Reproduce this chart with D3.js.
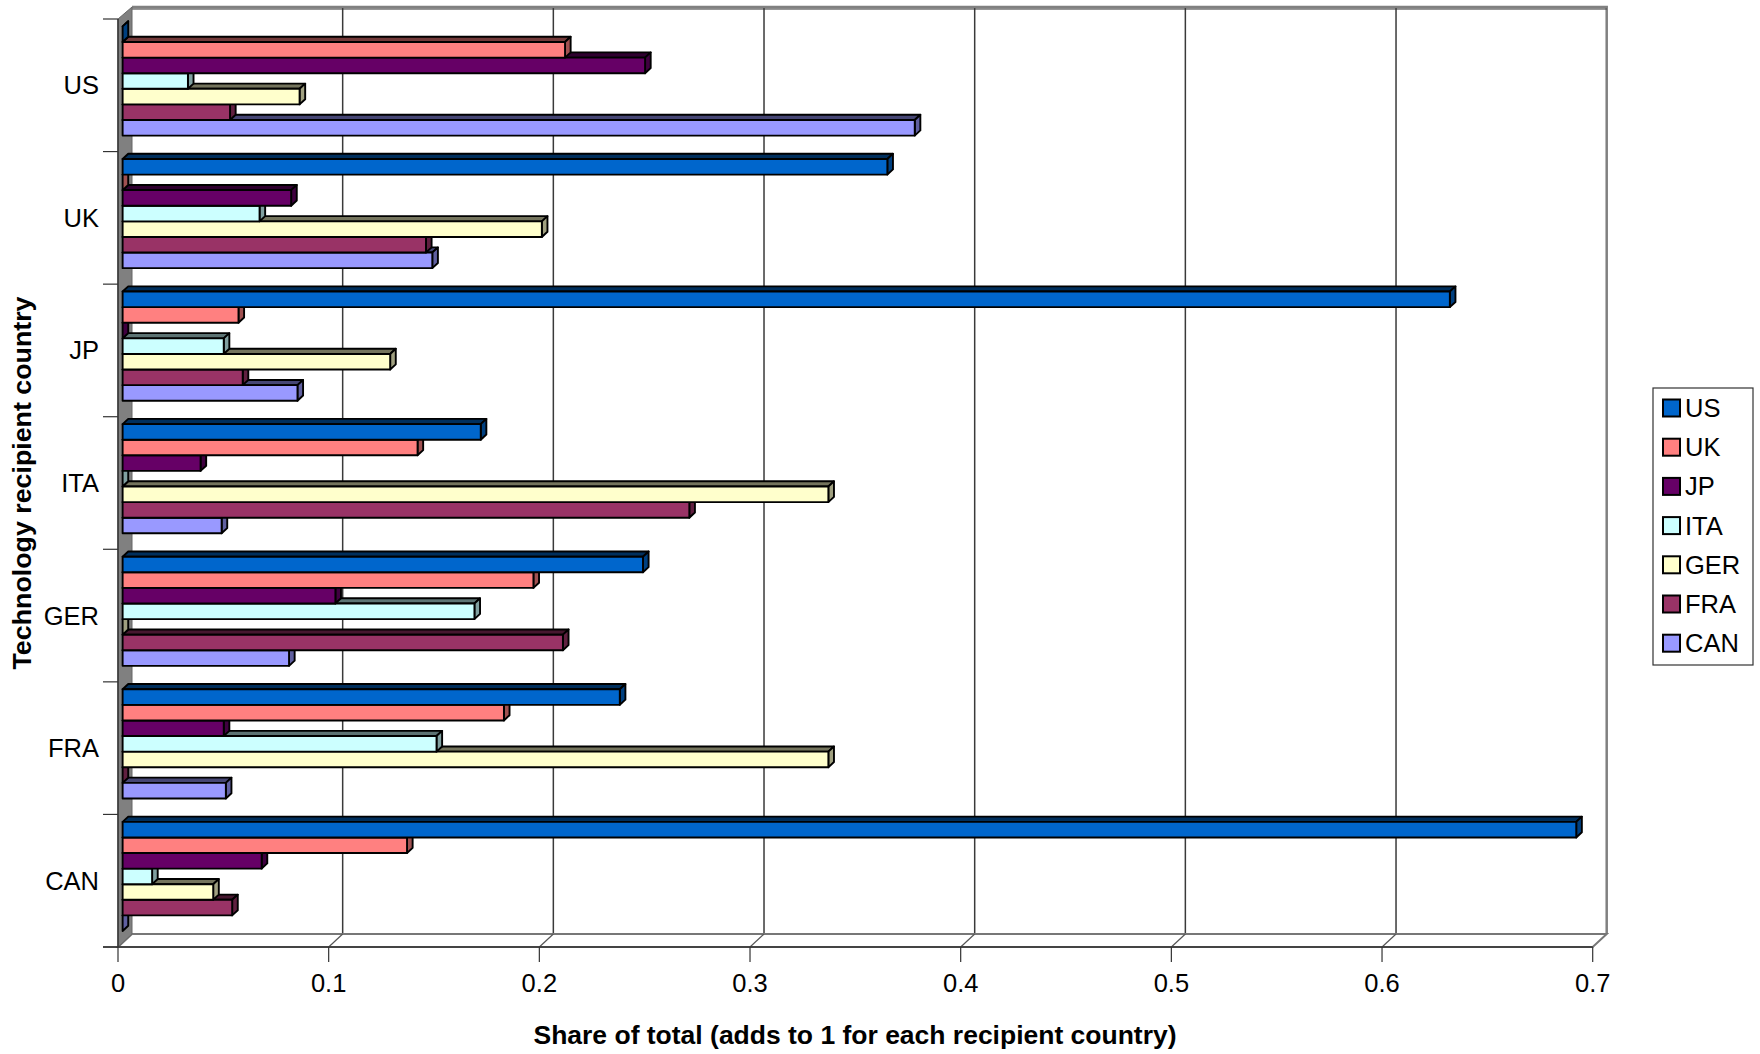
<!DOCTYPE html>
<html>
<head>
<meta charset="utf-8">
<script src="https://cdn.jsdelivr.net/npm/d3@7"></script>
<style>
  html, body { margin: 0; padding: 0; background: #fff; }
  svg { display: block; font-family: "Liberation Sans", Arial, sans-serif; }
</style>
</head>
<body>
<svg id="chart" width="1760" height="1054"></svg>
<script>
// Recipient countries (one cluster each) and technology source countries (one bar each)
const recipients = ["US", "UK", "JP", "ITA", "GER", "FRA", "CAN"];
const sources = ["US", "UK", "JP", "ITA", "GER", "FRA", "CAN"];

// Share of each recipient's total coming from each source, listed in recipient order
const usShare  = [0.000, 0.363, 0.630, 0.170, 0.247, 0.236, 0.690];
const ukShare  = [0.210, 0.000, 0.055, 0.140, 0.195, 0.181, 0.135];
const jpShare  = [0.248, 0.080, 0.000, 0.037, 0.101, 0.048, 0.066];
const itaShare = [0.031, 0.065, 0.048, 0.000, 0.167, 0.149, 0.014];
const gerShare = [0.084, 0.199, 0.127, 0.335, 0.000, 0.335, 0.043];
const fraShare = [0.051, 0.144, 0.057, 0.269, 0.209, 0.000, 0.052];
const canShare = [0.376, 0.147, 0.083, 0.047, 0.079, 0.049, 0.000];

const shareBySource = [usShare, ukShare, jpShare, itaShare, gerShare, fraShare, canShare];
const sourceColors = ["#0066CC", "#FF8080", "#660066", "#CCFFFF", "#FFFFCC", "#993366", "#9999FF"];
const xTickValues = [0, 0.1, 0.2, 0.3, 0.4, 0.5, 0.6, 0.7];
const xTickLabels = ["0", "0.1", "0.2", "0.3", "0.4", "0.5", "0.6", "0.7"];

const svg = d3.select("#chart");

// Front plane of the plot box; the back wall is shifted up-right by the depth
const depthX = 14, depthY = 13;
const x = d3.scaleLinear().domain([0, 0.7]).range([118, 1592.7]);
const yCat = d3.scaleBand().domain(recipients).range([19, 947]).paddingInner(0).paddingOuter(0);
const ySrc = d3.scaleBand().domain(sources).range([0, yCat.bandwidth()]).paddingInner(0).paddingOuter(0.75);

const plotL = x(0), plotR = x(0.7), plotT = yCat.range()[0], plotB = yCat.range()[1];

// Back wall
svg.append("rect")
  .attr("x", plotL + depthX).attr("y", plotT - depthY + 1)
  .attr("width", plotR - plotL).attr("height", plotB - plotT - 1)
  .attr("fill", "#fff");

// Gridlines on the back wall
svg.append("g").selectAll("line")
  .data(xTickValues.slice(1, -1))
  .join("line")
  .attr("x1", d => x(d) + depthX).attr("x2", d => x(d) + depthX)
  .attr("y1", plotT - depthY + 1).attr("y2", plotB - depthY)
  .attr("stroke", "#3a3a3a").attr("stroke-width", 1.5);

// Back wall outline (top and right)
svg.append("path")
  .attr("d", `M${plotL + depthX},${plotT - depthY + 1}H${plotR + depthX}V${plotB - depthY}`)
  .attr("fill", "none").attr("stroke", "#808080").attr("stroke-width", 2.5);
svg.append("line")
  .attr("x1", plotL + depthX).attr("x2", plotR + depthX)
  .attr("y1", plotT - depthY + 3).attr("y2", plotT - depthY + 3)
  .attr("stroke", "#333").attr("stroke-width", 1);

// Floor
svg.append("path")
  .attr("d", `M${plotL},${plotB}L${plotL + depthX},${plotB - depthY}H${plotR + depthX}L${plotR},${plotB}Z`)
  .attr("fill", "#fff").attr("stroke", "#777").attr("stroke-width", 2);
svg.append("g").selectAll("line")
  .data(xTickValues.slice(1, -1))
  .join("line")
  .attr("x1", d => x(d) + depthX).attr("y1", plotB - depthY)
  .attr("x2", d => x(d)).attr("y2", plotB)
  .attr("stroke", "#555").attr("stroke-width", 1.2);

// Left side wall
svg.append("path")
  .attr("d", `M${plotL},${plotT}L${plotL + depthX},${plotT - depthY + 1}V${plotB - depthY}L${plotL},${plotB}Z`)
  .attr("fill", "#808080").attr("stroke", "#666").attr("stroke-width", 1);

// 3D bars: front face, top face, right side face
const offX = depthX * 0.33, offY = depthY * 0.33;   // gap in front of the bars
const barX = depthX * 0.4, barY = depthY * 0.4;     // bar depth
const bars = svg.append("g");

for (let ci = recipients.length - 1; ci >= 0; ci--) {
  for (let si = sources.length - 1; si >= 0; si--) {
    const v = shareBySource[si][ci];
    const col = sourceColors[si];
    const x0 = x(0) + offX, x1 = x(v) + offX;
    const y0 = yCat(recipients[ci]) + ySrc(sources[si]) - offY;
    const h = ySrc.bandwidth();
    const g = bars.append("g")
      .attr("stroke", "#000").attr("stroke-width", 1.9).attr("stroke-linejoin", "round");
    g.append("path")
      .attr("d", `M${x0},${y0}H${x1}L${x1 + barX},${y0 - barY}H${x0 + barX}Z`)
      .attr("fill", d3.rgb(col).darker(2.2));
    g.append("path")
      .attr("d", `M${x1},${y0}V${y0 + h}L${x1 + barX},${y0 + h - barY}V${y0 - barY}Z`)
      .attr("fill", d3.rgb(col).darker(1.3));
    g.append("rect")
      .attr("x", x0).attr("y", y0)
      .attr("width", Math.max(0, x1 - x0)).attr("height", h)
      .attr("fill", col);
  }
}

// Category axis (left)
const yAxis = svg.append("g");
yAxis.append("line")
  .attr("x1", plotL).attr("x2", plotL).attr("y1", plotT).attr("y2", plotB)
  .attr("stroke", "#333").attr("stroke-width", 1.5);
yAxis.selectAll("line.tick")
  .data(d3.range(recipients.length + 1))
  .join("line").attr("class", "tick")
  .attr("x1", plotL - 15).attr("x2", plotL)
  .attr("y1", i => plotT + i * yCat.step()).attr("y2", i => plotT + i * yCat.step())
  .attr("stroke", "#333").attr("stroke-width", 1.2);
yAxis.selectAll("text")
  .data(recipients)
  .join("text")
  .attr("x", 99).attr("y", d => yCat(d) + yCat.bandwidth() / 2)
  .attr("text-anchor", "end").attr("dominant-baseline", "central")
  .attr("font-size", 25.5).attr("fill", "#000")
  .text(d => d);

// Value axis (bottom)
const xAxis = svg.append("g");
xAxis.append("line")
  .attr("x1", plotL - 15).attr("x2", plotR).attr("y1", plotB).attr("y2", plotB)
  .attr("stroke", "#333").attr("stroke-width", 1.5);
xAxis.selectAll("line.tick")
  .data(xTickValues)
  .join("line").attr("class", "tick")
  .attr("x1", d => x(d)).attr("x2", d => x(d))
  .attr("y1", plotB).attr("y2", plotB + 15)
  .attr("stroke", "#333").attr("stroke-width", 1.2);
xAxis.selectAll("text")
  .data(xTickValues)
  .join("text")
  .attr("x", d => x(d)).attr("y", 992)
  .attr("text-anchor", "middle")
  .attr("font-size", 25.5).attr("fill", "#000")
  .text((d, i) => xTickLabels[i]);

// Axis titles
svg.append("text")
  .attr("x", 855).attr("y", 1044)
  .attr("text-anchor", "middle")
  .attr("font-size", 25).attr("font-weight", "bold")
  .attr("textLength", 643).attr("lengthAdjust", "spacingAndGlyphs")
  .text("Share of total (adds to 1 for each recipient country)");

svg.append("text")
  .attr("transform", "translate(31,483) rotate(-90)")
  .attr("text-anchor", "middle")
  .attr("font-size", 25).attr("font-weight", "bold")
  .attr("textLength", 373).attr("lengthAdjust", "spacingAndGlyphs")
  .text("Technology recipient country");

// Legend
const legend = svg.append("g");
legend.append("rect")
  .attr("x", 1653).attr("y", 388).attr("width", 100).attr("height", 277)
  .attr("fill", "#fff").attr("stroke", "#333").attr("stroke-width", 1.2);
const rows = legend.selectAll("g.row")
  .data(sources)
  .join("g").attr("class", "row")
  .attr("transform", (d, i) => `translate(0,${408 + i * 39.2})`);
rows.append("rect")
  .attr("x", 1663).attr("y", -8.5).attr("width", 17).attr("height", 17)
  .attr("fill", (d, i) => sourceColors[i])
  .attr("stroke", "#000").attr("stroke-width", 2);
rows.append("text")
  .attr("x", 1685).attr("y", 0)
  .attr("dominant-baseline", "central")
  .attr("font-size", 25.5).attr("fill", "#000")
  .text(d => d);
</script>
</body>
</html>
